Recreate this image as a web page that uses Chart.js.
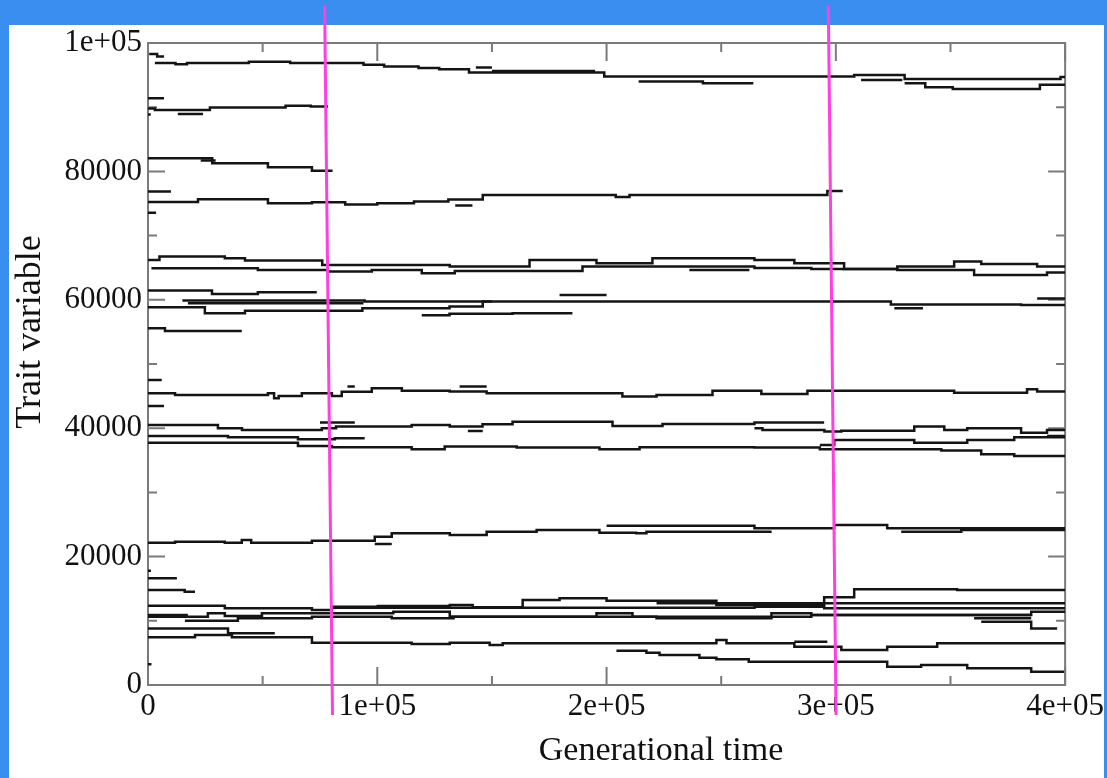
<!DOCTYPE html>
<html>
<head>
<meta charset="utf-8">
<script src="https://cdn.jsdelivr.net/npm/chart.js@4.4.1/dist/chart.umd.min.js"></script>
<style>
  html, body { margin: 0; padding: 0; background: #3a8ef0; }
  #wrap { width: 1107px; height: 778px; }
</style>
</head>
<body>
<div id="wrap"><canvas id="c" width="1107" height="778"></canvas></div>
<script>
// ---------- DATA (x: generational time, y: trait value) ----------
// each lineage: [[xStart, y], [xChange, yNew], ..., [xEnd]]
const xTickLabels = ['0', '1e+05', '2e+05', '3e+05', '4e+05'];
const yTickLabels = ['0', '20000', '40000', '60000', '80000', '1e+05'];
const xTitle = 'Generational time';
const yTitle = 'Trait variable';

const band95k = [
  [[500, 98300], [4000, 97900], [7000]],
  [[3000, 96900], [12000, 96700], [17000, 96900], [44000, 97060], [62000, 96900], [94000, 96600], [103000, 96330], [118000, 96100], [127000, 95920], [140000, 95420], [199000, 94800], [308000, 95020], [330000, 94400], [398000, 94710], [400000]],
  [[143000, 96200], [150000]],
  [[150000, 95650], [195000]],
  [[311000, 94250], [329000]],
  [[214000, 93990], [242000, 93740], [264000]],
  [[330000, 93740], [339000, 93100], [351000, 92850], [389000, 93480], [400000]]
];

const band90k = [
  [[0, 91400], [7000]],
  [[0, 89800], [3000, 89570], [27000, 89950], [60000, 90210], [71000, 90100], [78500]],
  [[13000, 88960], [24000]],
  [[0, 88850], [1200]]
];

const band80k = [
  [[0, 82060], [28000, 81270], [52300, 80650], [71500, 80120], [80500]],
  [[23000, 81700], [29500]]
];

const band75k = [
  [[0, 76870], [10000]],
  [[0, 73540], [3500]],
  [[0, 75250], [21800, 75670], [52300, 75050], [71500, 75200], [86000, 74830], [100000, 75050], [116000, 75330], [131000, 75640], [146000, 76340], [204000, 76000], [210000, 76340], [296300, 76960], [303000]],
  [[134000, 74680], [141500]]
];

const band65k = [
  [[0, 66210], [5000, 66730], [33500, 66470], [42300, 66130], [76000, 65430], [131600, 65170], [166400, 66210], [195600, 65690], [220000, 66470], [264500, 66210], [281900, 65690], [303600, 64810], [326800, 65170], [351600, 65950], [363400, 65590], [387800, 65170], [400000]],
  [[1500, 64920], [47900, 64660], [78400, 64400], [97600, 64660], [119400, 64150], [133800, 64500], [189500, 65170], [264500, 64950], [289300, 64810], [326800, 64660], [360300, 63880], [392100, 64270], [400000]],
  [[236100, 64660], [262300]]
];

const band60k = [
  [[0, 61430], [27900, 60920], [47900, 61180], [73600]],
  [[15000, 59880], [94500, 59720], [324000, 59280], [380800, 59200], [400000]],
  [[17400, 59470], [94000]],
  [[179500, 60760], [200000]],
  [[387800, 60210], [400000]],
  [[0, 58840], [24800, 57910], [42300, 58310], [93500, 58680], [131500, 58970], [146000, 59720], [150000]],
  [[119400, 57600], [131500, 57830], [159000, 57910], [185100]],
  [[325500, 58680], [338000]],
  [[0, 55570], [7400, 55150], [40900]]
];

const band45k = [
  [[0, 47520], [6000]],
  [[0, 43460], [7000]],
  [[0, 45450], [11800, 45180], [52300, 45450], [55000, 44670], [57000, 45030], [67100, 45450], [80200, 45030], [84500, 45690], [97600, 46210], [110700, 45840], [131600, 45700], [147700, 45450], [206900, 44930], [221800, 45180], [246200, 45840], [267500, 45340], [287600, 45840], [351600, 45530], [383400, 46070], [387800, 45700], [400000]],
  [[135900, 46500], [147700]],
  [[87000, 46480], [90200]]
];

const band38k = [
  [[0, 40510], [30500, 39990], [41000, 39730], [75800, 39990], [82000, 40250], [115000, 40510], [131600, 40250], [145900, 40610], [159000, 41020], [202600, 40350], [224400, 40660], [264500, 40880], [294900]],
  [[264500, 39990], [268000, 39730], [295000, 39470], [302400, 39620], [334200, 40250], [347300, 39730], [357300, 39990], [380800, 39310], [392100, 39730], [400000]],
  [[75000, 40880], [90200]],
  [[139500, 39580], [146000]],
  [[0, 38800], [34900, 38590], [65400, 38280], [81500, 38440], [94500]],
  [[0, 37750], [65400, 37240], [80200, 37030], [115000, 36720], [129400, 37140], [160800, 36980], [196900, 36720], [214400, 37030], [264500, 36980], [293000, 36720], [346000, 36510], [363400, 35950], [377800, 35680], [400000]],
  [[293000, 37400], [299300, 38170], [334200, 37750], [357300, 38170], [377800, 38590], [400000]],
  [[392100, 38800], [400000]]
];

const band23k = [
  [[0, 22170], [11800, 22330], [33500, 22170], [40900, 22590], [45000, 22170], [71500, 22480], [98900, 23110], [106300, 23630], [131600, 23370], [147700, 23890], [169500, 24150], [196900, 23730], [213000, 23630], [217400, 23890], [272000]],
  [[200000, 24820], [264500, 24410], [299300, 24930], [322400, 24410], [400000]],
  [[328500, 23890], [354700, 24150], [400000]],
  [[98900, 21970], [106300]],
  [[0, 17810], [1300]],
  [[0, 16620], [12600]],
  [[0, 14800], [16000, 14540], [20500]]
];

const band10k = [
  [[0, 12360], [33500, 11950], [71500, 11680], [80200, 12200], [100200, 12300], [131600, 12460], [141600, 12100], [163400, 13240], [179500, 13510], [200000, 13140], [247900, 12460], [294900, 13660], [308000, 14910], [352900, 14800], [400000]],
  [[80200, 12050], [264500, 12200], [294900, 11950], [400000]],
  [[221800, 12720], [400000]],
  [[0, 10650], [26100, 11170], [33500, 10750], [49700, 11170], [107000, 11420], [131600, 10650], [195600, 11170], [211300, 10650], [221800, 10390], [266600, 10390], [271900, 11170], [289300, 10910], [385200, 11420], [400000]],
  [[0, 10910], [17400]],
  [[131600, 10650], [264500, 10650], [289300, 10910], [385200]],
  [[360300, 10390], [385200]],
  [[363400, 9860], [385200, 8820], [396500]],
  [[16100, 10020], [39200, 10390], [71500, 10650], [106300, 10390], [133800]],
  [[0, 8820], [34900, 8050], [55300]],
  [[0, 7430], [20500, 7790], [36600, 7430], [71500, 6590], [115000, 6390], [131600, 6590], [149000, 6230], [154700, 6500], [247900, 7010], [252300, 6500], [281900, 5970], [302400, 5450], [322400, 5970], [344200, 6500], [400000]],
  [[281900, 6750], [296300]],
  [[204300, 5340], [217400, 5030], [223100, 4670], [240500, 4250], [247900, 4000], [262000, 3630], [322400, 2850], [337200, 3120], [357300, 2600], [385200, 2070], [399500]],
  [[0, 3220], [1500]]
];

// two hand-drawn marker lines (data coordinates of their ends)
const markerLines = [
  [[77040, 105760], [80480, -4670]],
  [[296730, 105760], [300090, -4670]]
];

// ---------- BUILD ----------
function toPoints(lin) {
  const pts = [];
  let lastY = null;
  for (const p of lin) {
    if (p.length === 2) { pts.push({ x: p[0], y: p[1] }); lastY = p[1]; }
    else pts.push({ x: p[0], y: lastY });
  }
  return pts;
}

const allBands = [band95k, band90k, band80k, band75k, band65k, band60k, band45k, band38k, band23k, band10k];
const datasets = [];
markerLines.forEach(m => {
  datasets.push({
    data: m.map(p => ({ x: p[0], y: p[1] })),
    borderColor: '#ff3fe0', borderWidth: 3, pointRadius: 0, fill: false,
    clip: false, order: 0, tension: 0
  });
});
allBands.forEach(band => band.forEach(lin => {
  datasets.push({
    data: toPoints(lin),
    borderColor: '#141414', borderWidth: 2.5, pointRadius: 0, fill: false,
    stepped: true, order: 1
  });
}));

const SERIF = '"Liberation Serif", "Times New Roman", serif';

const bgPlugin = {
  id: 'bg',
  beforeDraw(chart) {
    const c = chart.ctx;
    c.save();
    c.fillStyle = '#3a8ef0';
    c.fillRect(0, 0, chart.width, chart.height);
    c.fillStyle = '#ffffff';
    c.fillRect(9, 25, 1095, 753);
    c.restore();
  }
};

const framePlugin = {
  id: 'frame',
  beforeDatasetsDraw(chart) {
    const c = chart.ctx;
    const { left, right, top, bottom } = chart.chartArea;
    const xs = chart.scales.x, ys = chart.scales.y;
    c.save();
    c.strokeStyle = '#7a7a7a';
    c.lineWidth = 2;
    c.strokeRect(left, top, right - left, bottom - top);
    c.beginPath();
    for (let v = xs.min; v <= xs.max; v += 50000) {
      const px = xs.getPixelForValue(v);
      const len = v % 100000 === 0 ? 18 : 9;
      c.moveTo(px, bottom); c.lineTo(px, bottom - len);
      c.moveTo(px, top); c.lineTo(px, top + len);
    }
    for (let v = ys.min; v <= ys.max; v += 10000) {
      const py = ys.getPixelForValue(v);
      const len = v % 20000 === 0 ? 17 : 9;
      c.moveTo(left, py); c.lineTo(left + len, py);
      c.moveTo(right, py); c.lineTo(right - len, py);
    }
    c.stroke();
    // axis titles
    c.fillStyle = '#111';
    c.textAlign = 'center';
    c.textBaseline = 'middle';
    c.font = '34px ' + SERIF;
    c.fillText(xTitle, 661, 751);
    c.translate(31, 332);
    c.rotate(-Math.PI / 2);
    c.font = '36px ' + SERIF;
    c.fillText(yTitle, 0, 0);
    c.restore();
  }
};

new Chart(document.getElementById('c'), {
  type: 'line',
  data: { datasets },
  plugins: [bgPlugin, framePlugin],
  options: {
    responsive: false,
    animation: false,
    events: [],
    layout: { padding: { left: 10, top: 43, right: 41, bottom: 0 } },
    plugins: { legend: { display: false }, tooltip: { enabled: false } },
    scales: {
      x: {
        type: 'linear', min: 0, max: 400000,
        grid: { display: false, drawTicks: false },
        border: { display: false },
        afterFit(s) { s.height = 93; },
        ticks: {
          stepSize: 100000, autoSkip: false, maxRotation: 0, padding: 3,
          color: '#111', font: { family: SERIF, size: 31 },
          callback: v => xTickLabels[Math.round(v / 100000)]
        }
      },
      y: {
        type: 'linear', min: 0, max: 100000,
        grid: { display: false, drawTicks: false },
        border: { display: false },
        afterFit(s) { s.width = 138; },
        ticks: {
          stepSize: 20000, autoSkip: false, padding: 6,
          color: '#111', font: { family: SERIF, size: 31 },
          callback: v => yTickLabels[Math.round(v / 20000)]
        }
      }
    }
  }
});
</script>
</body>
</html>
